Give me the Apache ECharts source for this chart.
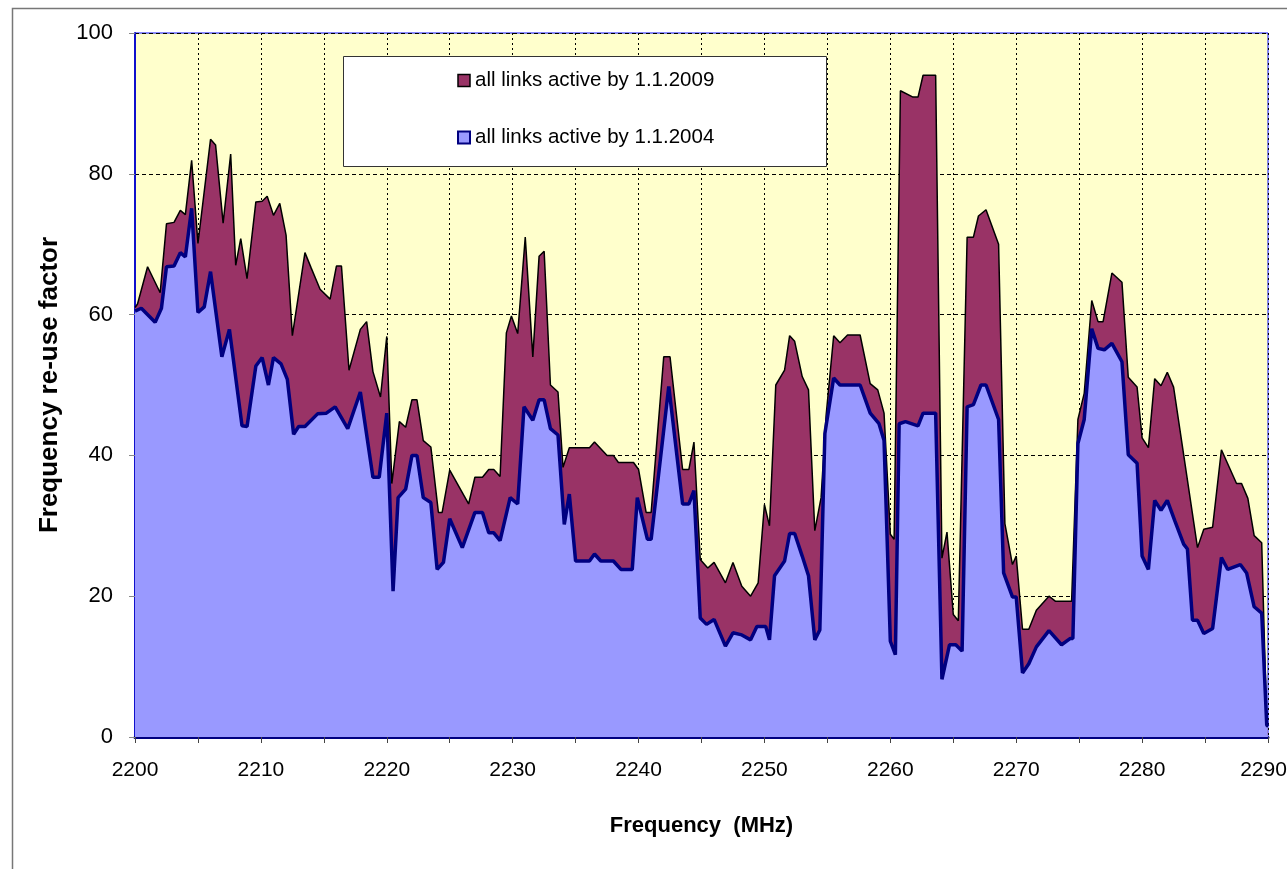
<!DOCTYPE html>
<html>
<head>
<meta charset="utf-8">
<script src="https://cdn.jsdelivr.net/npm/echarts/dist/echarts.min.js"></script>
<style>
html,body{margin:0;padding:0;background:#fff;overflow:hidden;}
#chart{width:1287px;height:869px;}
</style>
</head>
<body>
<div id="chart"></div>
<script>
// ---- data ----
const seriesNames = ['all links active by 1.1.2009', 'all links active by 1.1.2004'];
const xTicks = [2200, 2210, 2220, 2230, 2240, 2250, 2260, 2270, 2280, 2290];
const yTicks = [0, 20, 40, 60, 80, 100];

const freq2009 = [2200.0,2200.2,2201.0,2202.0,2202.5,2203.1,2203.6,2204.0,2204.5,2205.0,2206.0,2206.4,2207.0,2207.6,2208.0,2208.4,2208.9,2209.6,2210.1,2210.5,2211.0,2211.5,2212.0,2212.5,2213.5,2214.0,2214.7,2215.5,2216.0,2216.4,2217.0,2217.9,2218.4,2218.9,2219.5,2220.0,2220.4,2221.0,2221.5,2222.0,2222.4,2222.9,2223.5,2224.1,2224.4,2225.0,2226.5,2227.0,2227.6,2228.1,2228.5,2229.0,2229.5,2229.9,2230.4,2231.0,2231.6,2232.1,2232.5,2233.0,2233.6,2234.0,2234.5,2236.1,2236.5,2237.5,2238.0,2238.4,2239.6,2240.0,2240.6,2241.0,2242.0,2242.5,2243.5,2244.0,2244.4,2244.9,2245.5,2246.0,2246.9,2247.5,2248.2,2248.9,2249.5,2250.0,2250.4,2250.9,2251.6,2252.0,2252.4,2253.0,2253.5,2254.0,2254.5,2254.9,2255.5,2256.0,2256.6,2257.6,2258.4,2259.0,2259.5,2260.0,2260.3,2260.8,2261.8,2262.2,2262.6,2263.6,2264.1,2264.5,2265.0,2265.4,2266.1,2266.6,2267.0,2267.6,2268.6,2269.1,2269.7,2270.0,2270.5,2271.0,2271.6,2272.6,2273.1,2274.4,2274.9,2275.4,2276.0,2276.5,2276.9,2277.6,2278.4,2278.9,2279.6,2280.0,2280.5,2281.0,2281.5,2282.0,2282.5,2284.4,2284.9,2285.6,2286.3,2287.5,2287.9,2288.4,2288.9,2289.5,2289.9,2290.0];
const reuse2009 = [61.0,61.5,66.8,63.1,72.9,73.1,74.8,74.2,81.9,70.1,84.9,84.1,73.0,82.8,67.0,70.8,65.1,76.0,76.1,76.8,74.1,75.8,71.3,57.0,68.8,66.6,63.6,62.2,66.9,66.9,52.1,57.9,59.0,51.9,48.3,56.9,36.0,44.8,44.0,47.9,47.9,42.1,41.2,31.9,31.9,37.9,33.1,36.9,36.9,38.0,38.0,37.0,57.4,59.8,57.3,71.0,54.0,68.3,69.0,50.0,49.0,38.3,41.1,41.1,41.9,40.0,40.0,39.0,39.0,38.0,31.9,31.9,54.0,54.0,38.0,38.0,41.9,25.2,24.0,24.8,21.9,24.8,21.4,20.0,21.9,33.0,30.0,50.0,52.1,57.0,56.2,51.2,49.3,29.3,34.0,45.7,57.0,56.0,57.1,57.1,50.2,49.3,46.0,28.8,28.1,91.8,90.9,90.9,94.0,94.0,25.4,29.1,17.4,16.5,71.0,71.0,74.0,74.9,70.0,30.3,24.5,25.7,15.3,15.3,18.0,20.0,19.3,19.3,45.1,48.8,62.0,59.0,59.0,65.9,64.6,51.1,49.7,42.5,41.1,50.9,49.9,51.8,49.7,26.9,29.5,29.8,40.8,36.0,36.0,33.9,28.6,27.6,1.5,1.5];

const freq2004 = [2200.0,2200.5,2201.6,2202.1,2202.5,2203.1,2203.6,2204.0,2204.5,2205.0,2205.5,2206.0,2206.9,2207.5,2208.5,2208.9,2209.6,2210.1,2210.6,2211.0,2211.6,2212.1,2212.6,2213.0,2213.5,2214.5,2215.2,2215.9,2216.9,2217.9,2218.9,2219.4,2220.0,2220.5,2220.9,2221.5,2222.0,2222.4,2222.9,2223.5,2224.0,2224.5,2225.0,2226.0,2227.0,2227.6,2228.1,2228.5,2229.0,2229.8,2230.4,2230.9,2231.6,2232.1,2232.5,2233.0,2233.6,2234.1,2234.5,2235.0,2236.1,2236.5,2237.0,2238.0,2238.6,2239.5,2239.9,2240.7,2241.0,2242.4,2243.5,2244.0,2244.4,2244.9,2245.4,2246.0,2246.9,2247.5,2248.2,2248.9,2249.4,2250.1,2250.4,2250.8,2251.6,2252.0,2252.4,2253.0,2253.5,2254.0,2254.4,2254.8,2255.5,2256.0,2257.6,2258.4,2259.1,2259.5,2260.0,2260.4,2260.7,2261.2,2262.2,2262.6,2263.6,2264.1,2264.7,2265.2,2265.7,2266.1,2266.6,2267.2,2267.6,2268.6,2269.0,2269.7,2270.0,2270.5,2271.0,2271.6,2272.6,2273.6,2274.3,2274.5,2274.9,2275.4,2276.0,2276.5,2277.0,2277.6,2278.4,2278.9,2279.6,2280.0,2280.5,2281.0,2281.5,2282.0,2282.6,2283.3,2283.6,2284.0,2284.4,2284.9,2285.6,2286.3,2286.8,2287.8,2288.3,2288.9,2289.5,2289.9,2290.0];
const reuse2004 = [60.5,60.9,58.9,60.9,66.8,66.9,68.8,68.2,75.1,60.3,61.1,66.1,54.0,57.9,44.2,44.1,52.7,53.9,50.0,53.9,53.0,50.8,43.0,44.1,44.1,45.9,46.0,46.9,43.8,49.0,36.9,36.9,46.0,20.7,34.0,35.2,40.0,40.0,34.0,33.3,23.8,24.8,31.0,26.9,31.9,31.9,29.0,29.0,27.9,34.0,33.1,46.9,45.0,47.9,47.9,43.8,42.9,30.2,34.5,25.0,25.0,26.0,25.0,25.0,23.8,23.8,34.0,28.1,28.1,49.8,33.1,33.1,35.0,16.9,16.0,16.7,12.9,14.8,14.5,13.8,15.7,15.7,13.8,22.9,25.0,28.9,28.9,25.7,22.9,13.8,15.2,43.1,51.0,50.0,50.0,46.0,44.5,42.1,13.6,11.7,44.5,44.8,44.2,46.0,46.0,8.2,13.1,13.1,12.2,46.9,47.2,50.0,50.0,45.1,23.3,19.9,19.9,9.1,10.4,12.8,15.1,13.1,14.0,14.0,41.7,45.1,58.0,55.2,55.0,55.9,53.3,40.1,38.9,25.7,23.8,33.6,32.2,33.6,30.7,27.4,26.7,16.6,16.6,14.7,15.4,25.5,23.8,24.5,23.3,18.5,17.6,1.7,1.5];

const zip = (xs, ys) => xs.map((x, i) => [x, ys[i]]);
const FONT = 'Liberation Sans, Arial, sans-serif';
const lastTick = xTicks[xTicks.length - 1];

const chart = echarts.init(document.getElementById('chart'), null, {renderer: 'canvas'});
chart.setOption({
  backgroundColor: '#ffffff',
  animation: false,
  textStyle: {fontFamily: FONT},
  graphic: [
    {type: 'rect', left: 10, top: 6, z: 0,
     shape: {width: 1400, height: 1000},
     style: {fill: 'none', stroke: '#777', lineWidth: 1.5}},
    {type: 'rect', left: 343, top: 56, z: 3,
     shape: {width: 483, height: 110},
     style: {fill: '#ffffff', stroke: '#333', lineWidth: 1}}
  ],
  grid: {
    left: 135, top: 33, right: 19, bottom: 132,
    outerBoundsMode: 'none', containLabel: false,
    show: true, backgroundColor: '#FFFFCC', borderColor: '#1010ff', borderWidth: 1
  },
  legend: {
    left: 457, top: 70, orient: 'vertical', padding: 0,
    itemGap: 36, itemWidth: 12, itemHeight: 12, z: 5,
    textStyle: {fontFamily: FONT, fontSize: 20.5, color: '#000', lineHeight: 20},
    data: [
      {name: seriesNames[0], icon: 'rect', itemStyle: {color: '#993366', borderColor: '#000', borderWidth: 1.5}},
      {name: seriesNames[1], icon: 'rect', itemStyle: {color: '#9999FF', borderColor: '#000080', borderWidth: 2}}
    ]
  },
  xAxis: {
    type: 'value', min: xTicks[0], max: lastTick, interval: 5,
    name: 'Frequency  (MHz)', nameLocation: 'middle', nameGap: 78,
    nameTextStyle: {fontFamily: FONT, fontSize: 22, fontWeight: 'bold', color: '#000'},
    axisLine: {show: true, onZero: false, lineStyle: {color: '#000080', width: 3}},
    axisTick: {show: true, length: 6, lineStyle: {color: '#444', width: 1}},
    axisLabel: {
      fontFamily: FONT, fontSize: 21, color: '#000', margin: 23,
      formatter: v => (v === lastTick ? '{last|' + v + '}' : (xTicks.indexOf(v) >= 0 ? String(v) : '')),
      rich: {last: {fontFamily: FONT, fontSize: 21, color: '#000', padding: [0, 9, 0, 0]}}
    },
    splitLine: {show: true, lineStyle: {color: '#000', width: 1, type: [2, 3]}}
  },
  yAxis: {
    type: 'value', min: yTicks[0], max: yTicks[yTicks.length - 1], interval: 20,
    name: 'Frequency re-use factor', nameLocation: 'middle', nameGap: 72, nameRotate: 90,
    nameTextStyle: {fontFamily: FONT, fontSize: 26, fontWeight: 'bold', color: '#000'},
    axisLine: {show: true, lineStyle: {color: '#1010cc', width: 2}},
    axisTick: {show: true, length: 6, lineStyle: {color: '#888', width: 1}},
    axisLabel: {fontFamily: FONT, fontSize: 22, color: '#000', margin: 22},
    splitLine: {show: true, lineStyle: {color: '#000', width: 1, type: [4, 3]}}
  },
  series: [
    {
      name: seriesNames[0], type: 'line', data: zip(freq2009, reuse2009),
      symbol: 'none', z: 2, color: '#993366',
      lineStyle: {color: '#000', width: 1.5},
      areaStyle: {color: '#993366', opacity: 1}
    },
    {
      name: seriesNames[1], type: 'line', data: zip(freq2004, reuse2004),
      symbol: 'none', z: 2.5, color: '#9999FF',
      lineStyle: {color: '#000080', width: 3.5},
      areaStyle: {color: '#9999FF', opacity: 1}
    }
  ]
});
</script>
</body>
</html>
